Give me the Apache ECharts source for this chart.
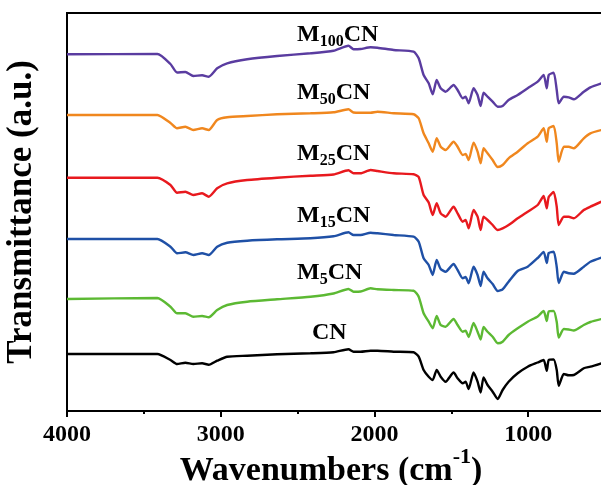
<!DOCTYPE html>
<html>
<head>
<meta charset="utf-8">
<script src="https://cdn.jsdelivr.net/npm/echarts@6/dist/echarts.min.js"></script>
<style>
html, body { margin: 0; padding: 0; background: #fff; }
#chart { width: 601px; height: 485px; }
</style>
</head>
<body>
<div id="chart"></div>
<script>
// FTIR spectra, stacked with vertical offsets (arbitrary units)
const wavenumbers = [4000, 3412, 3327, 3284, 3230, 3178, 3121, 3078, 3023, 2958, 2828, 2633, 2416, 2266, 2169, 2136, 2090, 2025, 1980, 1875, 1745, 1712, 1680, 1647, 1621, 1595, 1569, 1537, 1485, 1459, 1426, 1407, 1387, 1355, 1329, 1309, 1290, 1264, 1231, 1198, 1166, 1127, 1068, 1003, 938, 899, 879, 866, 834, 814, 801, 768, 736, 703, 638, 595, 523];

const cn = [57, 57, 51, 47, 48.3, 47, 47.7, 46.3, 50.3, 54.3, 55.3, 56.7, 57.7, 58.8, 61.8, 59.3, 59.3, 60.3, 60.3, 59.3, 58.7, 54.3, 41, 34.3, 31, 41, 34.3, 29.3, 38.5, 32.7, 27.7, 29.3, 22, 38.5, 29.3, 18.5, 33.5, 26, 19.3, 12, 21, 29.3, 37.7, 44.3, 48.5, 51, 40.2, 51, 51.5, 41, 25.2, 37, 35.7, 36, 42.7, 44.3, 47.7];
const m5cn = [112, 113, 104.3, 97.7, 97.7, 94.3, 95, 93.7, 101, 106, 109.3, 111.7, 114.3, 117.5, 122, 119.3, 119.5, 122.7, 121.7, 121, 120.3, 114.3, 97.7, 89.3, 82.7, 95, 86, 84.3, 92, 86, 79.3, 80.3, 74, 88, 79.3, 71.5, 84, 79.3, 74.3, 67.7, 69.3, 76, 82.7, 89.3, 94.5, 100, 90, 99.5, 100, 89, 73.5, 82, 81.5, 80.5, 86, 89, 92];
const m15cn = [172, 172, 164.3, 157.7, 158.7, 156, 157.7, 156, 164.3, 168.3, 170.3, 171.7, 172.7, 174.7, 178.7, 176, 176, 178.3, 177.7, 176, 174.3, 169.3, 152.7, 146, 136, 151, 142, 139.3, 147, 141, 132.7, 134, 127.7, 144.3, 136, 125, 139.3, 132.7, 127, 120, 121.7, 129.3, 140, 144.3, 153, 159, 148, 158, 159.3, 144, 128, 139.3, 137.7, 137.3, 144.3, 149.3, 153.5];
const m25cn = [233.3, 233.3, 226, 218.3, 219.3, 216, 217.7, 214.3, 222.7, 227.7, 231, 233.3, 235.3, 236.5, 240.7, 237.7, 237.7, 241, 240, 237.7, 236.7, 234, 216, 208.4, 196, 207.7, 197.7, 194.3, 204.3, 197.7, 189.3, 191, 182.7, 201, 194.3, 181, 194.3, 191, 186, 181, 182.7, 186, 192.7, 199.3, 206, 215, 202.7, 214, 219, 204.3, 186, 194.3, 194.3, 192.7, 201, 204.3, 209.3];
const m50cn = [296, 296, 288, 282.7, 284.3, 281, 282.7, 281, 291, 293.7, 295, 296.7, 297.7, 298.7, 301.7, 298.5, 298.3, 298.3, 299.3, 297.7, 296.7, 292.7, 277.7, 267.7, 259.3, 272.7, 264.3, 261, 269.3, 264.3, 256, 257, 251, 268.3, 259.3, 247.7, 262.7, 257.7, 251, 244, 246, 252.7, 259.3, 267.7, 274.3, 282.7, 269.3, 282.7, 285, 267.7, 249.3, 264.3, 264.3, 262.7, 272.7, 277.7, 281];
const m100cn = [356.7, 357, 347, 338.5, 339, 335, 335.7, 334.3, 342.7, 347.7, 351.7, 355, 357.7, 360.3, 365.3, 361.7, 362, 363.7, 363.3, 361, 359.3, 352.7, 336, 327.7, 316.7, 331, 322.7, 319.3, 326, 321, 312.7, 314.3, 307.7, 322.7, 316, 305, 318.3, 314.3, 309.3, 304.3, 305, 311, 316, 322.7, 329.3, 336, 322.7, 336, 338.3, 321, 307.7, 314.3, 313.7, 311.7, 319.3, 323.7, 327.7];

const spectra = [cn, m5cn, m15cn, m25cn, m50cn, m100cn];
const seriesNames = ['CN', 'M5CN', 'M15CN', 'M25CN', 'M50CN', 'M100CN'];
const seriesLabels = ['{m|CN}', '{m|M}{s|5}{m|CN}', '{m|M}{s|15}{m|CN}', '{m|M}{s|25}{m|CN}', '{m|M}{s|50}{m|CN}', '{m|M}{s|100}{m|CN}'];
const seriesColors = ['#000000', '#5cb933', '#1f50a6', '#e8191e', '#f0871e', '#5a3ca0'];

const majorTicks = [4000, 3000, 2000, 1000];
const minorTicks = [3500, 2500, 1500];

const FONT = 'Liberation Serif';

const chart = echarts.init(document.getElementById('chart'), null, { renderer: 'canvas' });

const labelRich = {
  m: { fontSize: 24, fontWeight: 'bold', fontFamily: FONT, color: '#000', lineHeight: 24, verticalAlign: 'top' },
  s: { fontSize: 16, fontWeight: 'bold', fontFamily: FONT, color: '#000', lineHeight: 16, padding: [11, 0, 0, 0], verticalAlign: 'top' }
};

// label anchor: left x, top y
const labelPos = [[312, 321], [297, 260.5], [297, 204], [297, 141.5], [297, 80.5], [297, 22.5]];

const baseXAxis = {
  type: 'value',
  inverse: true,
  min: 500,
  max: 4000,
  interval: 500,
  splitLine: { show: false }
};

chart.setOption({
  animation: false,
  backgroundColor: '#fff',
  grid: {
    left: 67, right: -4, top: 13, bottom: 74,
    containLabel: false,
    outerBoundsMode: 'none',
    show: true, borderColor: '#000', borderWidth: 2, backgroundColor: 'transparent'
  },
  xAxis: [
    Object.assign({}, baseXAxis, {
      position: 'bottom',
      axisLine: { show: true, onZero: false, lineStyle: { color: '#000', width: 2 } },
      axisTick: { show: true, length: 6, lineStyle: { color: '#000', width: 2 }, customValues: majorTicks },
      axisLabel: {
        show: true, margin: 12, color: '#000', fontSize: 24, fontWeight: 'bold', fontFamily: FONT,
        formatter: v => (majorTicks.indexOf(v) >= 0 ? String(v) : '')
      },
      name: '{t|Wavenumbers (cm}{u|-1}{t|)}',
      nameLocation: 'middle',
      nameGap: 35,
      nameMoveOverlap: false,
      nameTextStyle: {
        padding: [0, 10, 0, 0],
        rich: {
          t: { fontSize: 34, fontWeight: 'bold', fontFamily: FONT, color: '#000', lineHeight: 34, padding: [8, 0, 0, 0], verticalAlign: 'top' },
          u: { fontSize: 22, fontWeight: 'bold', fontFamily: FONT, color: '#000', lineHeight: 22, verticalAlign: 'top' }
        }
      }
    }),
    Object.assign({}, baseXAxis, {
      position: 'bottom',
      axisLine: { show: false },
      axisTick: { show: true, length: 3, lineStyle: { color: '#000', width: 2 }, customValues: minorTicks },
      axisLabel: { show: false }
    })
  ],
  yAxis: {
    type: 'value',
    min: 0,
    max: 398,
    axisLine: { show: false },
    axisTick: { show: false },
    axisLabel: { show: false },
    splitLine: { show: false },
    name: 'Transmittance (a.u.)',
    nameLocation: 'middle',
    nameGap: 28,
    nameMoveOverlap: false,
    nameTextStyle: { fontSize: 35, fontWeight: 'bold', fontFamily: FONT, color: '#000' }
  },
  series: spectra.map((vals, i) => ({
    name: seriesNames[i],
    type: 'line',
    xAxisIndex: 0,
    showSymbol: false,
    symbol: 'none',
    smooth: 0.2,
    clip: true,
    lineStyle: { color: seriesColors[i], width: 2.4 },
    data: wavenumbers.map((w, k) => [w, vals[k]])
  })),
  graphic: seriesLabels.map((txt, i) => ({
    type: 'text',
    left: labelPos[i][0],
    top: labelPos[i][1],
    style: { text: txt, rich: labelRich }
  }))
});
</script>
</body>
</html>
